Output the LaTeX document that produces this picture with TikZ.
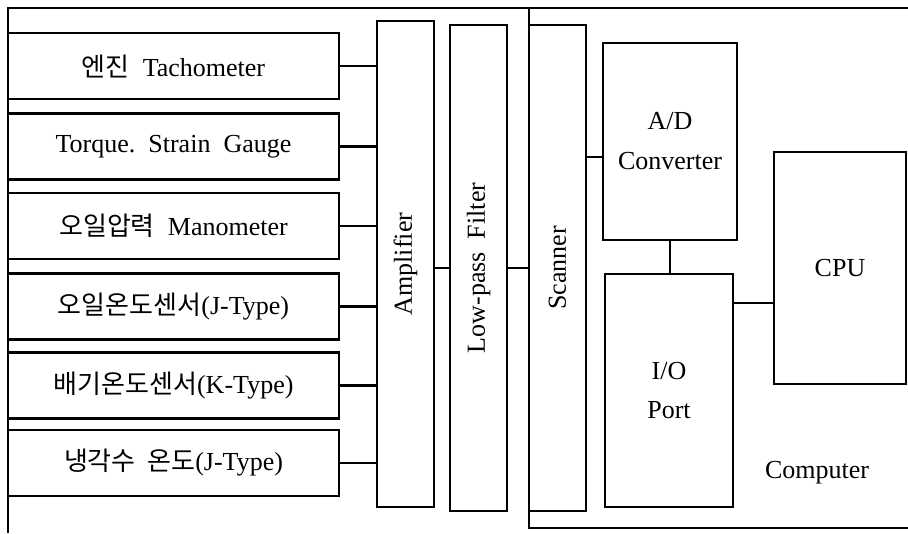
\documentclass[tikz,border=0pt]{standalone}
\usepackage{fontspec}
\setmainfont{Liberation Serif}
\newfontfamily\krfont{Noto Sans CJK KR}
\tikzset{
  blk/.style={draw, line width=1.6pt, inner sep=0pt, align=center},
  sensorbox/.style={blk, minimum width=248.25pt, minimum height=49.5pt},
  tallbox/.style={blk, minimum width=42.75pt, minimum height=364.5pt},
  wire/.style={line width=1.6pt},
}

\begin{document}
\begin{tikzpicture}[x=0.75pt, y=-0.75pt, font=\fontsize{19.5}{25}\selectfont]
  \useasboundingbox (0,0) rectangle (908,533);
  % outer frame and computer part
  \draw[wire] (8,533) -- (8,8) -- (908,8);
  \draw[wire] (529,8) -- (529,528) -- (908,528);

  \node[tallbox] (amp) at (405.5,264) {\rotatebox{90}{Amplifier}};
  \node[tallbox] (lpf) at (478.5,268) {\rotatebox{90}{Low-pass\ \ Filter}};
  \node[tallbox] (scan) at (557.5,268) {\rotatebox{90}{Scanner}};

  \foreach \y/\name [count=\i] in {66/{{\krfont 엔진}\ \ Tachometer},
      146.5/{Torque.\ \ Strain\ \ Gauge}, 226/{{\krfont 오일압력}\ \ Manometer},
      306.5/{{\krfont 오일온도센서}(J-Type)}, 385.5/{{\krfont 배기온도센서}(K-Type)},
      463/{{\krfont 냉각수\ \ 온도}(J-Type)}}{
    \node[sensorbox] (s\i) at (173.5,\y) {\name};
    \draw[wire] (s\i.east) -- (s\i.east -| amp.west);
  }

  \node[blk, minimum width=100.5pt, minimum height=147.75pt,
    font=\fontsize{19.5}{30}\selectfont] (ad) at (670,141.5) {A/D\\Converter};
  \node[blk, minimum width=96pt, minimum height=174.75pt,
    font=\fontsize{19.5}{29}\selectfont] (io) at (669,390.5) {I/O\\Port};
  \node[blk, minimum width=99pt, minimum height=174pt] (cpu) at (840,268) {CPU};
  \node (comp) at (817,473) {Computer};

  \draw[wire] (amp.east |- lpf.west) -- (lpf.west);
  \draw[wire] (lpf.east) -- (lpf.east -| scan.west);
  \draw[wire] ([yshift=-11.5pt]ad.west -| scan.east) -- ([yshift=-11.5pt]ad.west);
  \draw[wire] (ad.south) -- (ad.south |- io.north);
  \draw[wire] ([yshift=-22.5pt]io.north east) -- ([yshift=-22.5pt]io.north east -| cpu.west);
\end{tikzpicture}
\end{document}
